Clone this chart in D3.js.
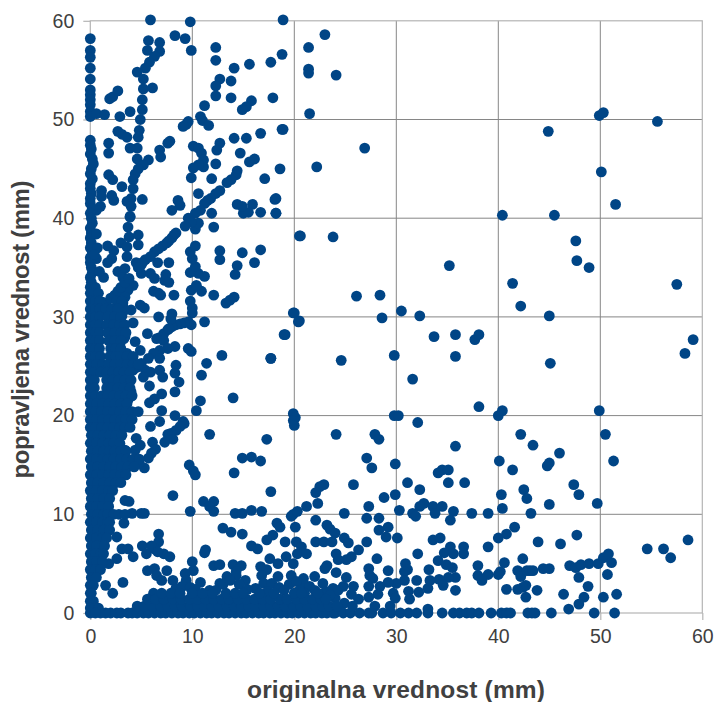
<!DOCTYPE html>
<html>
<head>
<meta charset="utf-8">
<script src="https://cdn.jsdelivr.net/npm/d3@7"></script>
<style>
html, body { margin: 0; padding: 0; background: #fff; }
svg { display: block; }
text { font-family: "Liberation Sans", Arial, sans-serif; fill: #404040; }
</style>
</head>
<body>
<svg width="717" height="702"></svg>
<script>
var xLabel = 'originalna vrednost (mm)';
var yLabel = 'popravljena vrednost (mm)';
var xTicks = [0, 10, 20, 30, 40, 50, 60];
var yTicks = [0, 10, 20, 30, 40, 50, 60];

// upper left part, y 40 - 60
var topPoints = [
[5.9,60.1],[9.8,59.9],[18.9,60.1],[0,58.2],[0,57],[0,56.3],[0,55.2],[0,54.1],[0,53],[0,52.5],[0,52],[0,51.5],[0,50.8],[0,50.3],
[.6,50.6],[1.4,50.5],[2.9,50.3],[3.9,50.8],[1.9,52.1],[2.2,52.3],[2.7,52.9],[5.7,58],[6.8,57.8],[5.6,57],[6.8,56.9],[6.3,56.4],
[5.8,55.8],[5.4,55.2],[4.6,54.8],[5.2,54.1],[5.2,53.1],[6.1,53.2],[5.1,52],[5.1,51],[4.9,50],[4.8,48.9],[4.7,48.2],[4.6,47.1],
[3.9,47.1],[4.6,46],[5.7,45.9],[5.2,45.4],[4.7,45],[4.4,44.5],[4.2,43.9],[4.2,43],[4,42],[3.6,41.7],[5.1,41.9],[4,41.2],[3.9,40.1],
[8.3,58.5],[9.3,58.2],[9.9,57],[12.3,57.3],[12.3,56],[14.1,55.2],[15.6,55.6],[17.7,55.8],[18.8,56.6],[12.7,54.1],[13.8,53.9],
[12.3,53.4],[12.3,52.4],[13.8,52.2],[15.8,51.9],[15.3,51.3],[14.9,51],[17.9,52.2],[11.2,51.4],[10.8,50.3],[11,49.9],[11.6,49.4],
[9.6,49.8],[9.4,49.5],[9.1,49.3],[18.9,49],[16.7,48.6],[15.3,48.1],[14.1,48.1],[12.7,47.6],[12.4,46.9],[10.1,47.3],[10.6,47.1],
[10.9,46.6],[11.1,45.9],[11.1,45.2],[10.6,45.4],[10.1,45.1],[9.9,44.1],[11.9,44],[12.3,45.5],[14.7,46.6],[16.1,46],[15.6,45.7],
[18.6,45],[17.1,44],[14.4,44.8],[14.3,44.4],[13.8,43.9],[13.4,43.6],[12.7,42.8],[12.3,42.5],[11.8,42],[11.5,41.8],[11.2,41.5],
[10.8,40.8],[10.3,40.5],[9.6,40],[10.6,42.5],[11.9,40.5],[14.4,41.4],[15.9,41.4],[18.2,42],[16.7,40.6],[18.2,40.5],[15,40.5],
[15.5,40.6],[14.9,41.2],[2.7,48.8],[3.1,48.5],[3.6,48.2],[1.8,47.6],[1.8,46.6],[1.8,44.4],[2.2,43.9],[3.1,43.2],[1.1,42.8],
[1.1,42.2],[2.1,42.3],[2.3,41.8],[1,41.2],[.6,40.8],[6.8,46.9],[6.9,46.2],[7.6,47.6],[7.8,47.8],[8.6,41.8],[8.8,41.3],[8,40.8],
[21.4,57.3],[23,58.6],[21.4,55.1],[21.4,54.7],[24.1,54.5],[21.5,50.6],[18.8,49],[22.2,45.2],[26.9,47.1],[18.1,41.9],[18.2,40.5],
[0,47.9],[0,47.4],[.1,47],[0,46.5],[.2,46],[.3,45.5],[.1,45],[0,44.5],[.2,44],[0,43.5],[0,43],[.1,42.5],[0,42],[0,41.5],[.2,41],[0,40.5],[.1,40]
];

// middle part, y 20 - 40
var middlePoints = [
[3.9,40.2],[3.7,39.1],[3.8,38.1],[4.7,38.3],[4.7,37.3],[3,37.5],[3.6,37.1],[3.6,36.1],[1.7,37.2],[2.3,36.7],[2.1,35.9],[1.7,35.5],
[.6,35.9],[1.3,34],[2.7,34.6],[3.4,34.9],[3.2,34],[4.5,35.5],[5,35.3],[5,34.4],[5.9,34.4],[6.3,33.9],[6.6,35.5],[7.7,35.5],[7.4,34.3],
[7.3,33.7],[7.7,33.5],[4.2,33.2],[3.7,32.7],[2.9,32.2],[6.2,32.6],[6.7,32.4],[6.9,32.2],[8.2,32.2],[9.8,31.6],[10,30.9],[10,30.4],
[10.9,32.6],[9.9,32.7],[10.4,33.2],[11.2,34.1],[10.6,34.4],[9.8,34.5],[10.3,35.1],[10,35.9],[9.8,36.6],[10.3,37.2],[12.1,32.2],
[13.3,31.4],[13.7,31.7],[14.1,32],[14.2,34.3],[14.4,35.2],[16.1,35.5],[12.7,36.7],[12.7,35.8],[14.9,36.5],[16.7,36.8],[20.6,38.2],
[12.1,39.1],[10.3,38.9],[10.6,39.5],[9.9,39.6],[9.3,39.2],[8.4,38.5],[8.2,38.3],[8,38],[7.7,37.7],[7.5,37.5],[7.1,37.2],[6.7,36.9],
[6.3,36.6],[5.9,36.1],[5.4,35.8],[5.1,35.5],[4.7,35],[19.9,30.4],[20.4,29.5],[19.1,28.2],[17.7,25.8],[14,21.8],[12.9,26.1],[11.4,25.3],
[10.9,24.1],[11.2,29.5],[10.8,21.5],[10.4,20.5],[8.3,22.4],[7,22.2],[6.3,21.7],[5.8,21.3],[7,20.5],[8.3,20],[9.1,19.4],[6.8,19.4],
[19.9,20.2],[20.1,19.8],[19.9,19.5],[20,19],[9.9,29.2],[9.6,29.5],[9.2,29.4],[8.8,29.3],[8.4,29.2],[8,29],[7.6,28.7],[7.2,28.3],[6.8,27.9],
[9.6,26.8],[9.9,26.5],[8.4,25.1],[8.3,24.3],[8.7,23.4],[8,30.3],[7.9,29.8],[6.7,30],[5.6,28.3],[4.2,29.4],[4,30.7],[4.9,31.2],[5.3,30.9],
[7.7,28.8],[4.4,27.5],[4.9,26.6],[3.6,26.3],[3.4,25.1],[6.8,24.6],[7.1,23.9],[5.8,23],[4,22.4],[3.7,21.6],[5.4,24.6],[5.9,24.4],[5.2,23.9],
[6.5,27.8],[7.2,27.6],[8.3,27],[7.6,26.8],[6.8,26.6],[6.2,26.3],[5.7,25.8],[5,25.3],[4.6,24.9],[4.2,24.6],[3.7,24.1],[3.2,23.6],[6.8,25.8],
[2.3,30],[3.1,30.1],[3.4,30.7],[3.2,31.4],[3.3,29.2],[3.1,28.5],[3.3,27.8],[2.9,27.2],[2.1,29],[1.9,28.4],[2.7,28.9],[3.4,28],[2.3,26.5],[2.8,25.5],
[1.2,31.5],[1.6,31.2],[2,31.9],[2.4,32.2],[2.7,32.6],[3,33],[3.4,33.5],[3.8,33.9],[1,30.4],[1.4,30.2],[3.2,31],[3.4,32],
[.2,39.5],[0,39],[.1,38.5],[0,38],[.1,37.5],[0,37],[.2,36.5],[0,36],[0,35.5],[.1,35],[.2,34.5],[0,34],[.1,33.5],[0,33],
[.6,38.4],[.7,37],[.5,33],[.9,34.6],[.4,36.3]
];

// right side of the chart, sparse
var rightPoints = [
[20.5,38.2],[23.8,38.1],[26.1,32.1],[28.4,32.2],[28.6,29.9],[30.5,30.6],[32.3,30.1],[33.7,28],[35.8,28.2],[37.7,27.7],[38.1,28.2],
[35.8,26],[29.8,26.1],[31.6,23.7],[24.6,25.6],[17.7,25.8],[19,28.2],[20,30.4],[20.5,29.6],[35.2,35.2],[40.4,40.3],[44.9,48.8],[49.9,50.4],
[50.3,50.7],[55.6,49.8],[50.1,44.7],[51.5,41.4],[45.5,40.3],[47.6,37.7],[47.7,35.7],[48.9,35],[41.4,33.4],[42.2,31.1],[45,30.1],[45.1,25.3],
[57.5,33.3],[58.3,26.3],[59.1,27.7],[38.1,20.9],[40,20],[40.4,20.5],[49.9,20.5],[50.5,18.1],[51.3,15.4],[42.2,18.1],[43.4,17],[35.8,16.9],
[46,16.2],[44.8,14.9],[45,15.2],[29.8,20],[30.2,20],[32.1,19.3],[47.4,13],[47.9,12],[45,11],[49.7,11.1],[54.6,6.5],[56.2,6.5],[56.9,5.6],[58.6,7.4]
];

// lower band, y 1.5 - 20, x beyond the left block
var lowerPoints = [
[24.1,18.1],[27.9,18.1],[28.3,17.6],[40.1,15.4],[41.4,14.5],[27.1,15.7],[27.6,14.7],[29.9,15.1],[34.5,14.5],[34.1,14.2],[35.1,14.5],[35.1,13.2],
[31.1,13.2],[36.7,13.2],[32.3,12.5],[25.8,13],[22.9,13],[22.5,12.8],[22.1,12.2],[28.8,11.7],[29.9,12],[40.3,12],[42.5,12.5],[42.8,11.6],[22.3,11.1],
[21.2,10.8],[27.3,10.8],[32.7,11.1],[32.3,10.8],[33.6,10.8],[34.5,10.8],[40.4,10.6],[35.6,10.3],[30.3,10.4],[24.9,10.1],[31.6,10.1],[31.9,9.8],[33.8,10.1],
[37.4,10.1],[39,10.1],[43.2,10.1],[22.1,9.4],[27.1,9.6],[28.3,9.6],[35.3,9.4],[23.2,8.9],[23.5,8.5],[24,8.1],[29.2,8.7],[28.3,8.4],[29,7.7],[24.9,7.6],[25.3,7.1],
[30.1,7.6],[27.1,7.2],[22.1,7.2],[22.9,7.2],[23.7,7.2],[33.6,7.4],[34.3,7.6],[40,7.6],[40.8,8],[41.6,8.7],[39,6.7],[35.3,6.7],[36.6,6.7],[34.7,6.1],[35.6,6],[36.6,6],
[32.1,6],[26.3,6.4],[24.1,6],[25.6,5.7],[25.1,5.4],[24.3,5.4],[28.1,5.5],[34.1,5.3],[42.4,5.5],[43.9,7.2],[46.1,7],[47.7,7.9],[40.6,5.1],[30.9,5],[34.9,4.9],[35.5,4.6],
[38,4.8],[27.3,4.5],[31.1,4.4],[33.2,4.4],[29.2,4.3],[40.2,4.2],[41.9,4.3],[42.2,3.7],[42.8,4.3],[43.1,4.3],[43.4,4.3],[44.4,4.5],[45,4.5],[47,4.8],[47.6,4.6],[48.1,4.9],
[48.9,5],[49.8,5],[50.3,5.6],[50.8,6],[51.1,5.1],[50.7,3.9],[47.9,3.6],[48.8,2.7],[48.4,1.6],[47.9,.9],[46.9,.4],[46.4,1.9],[43.8,2.3],[42.7,2.8],[42.4,2.6],[41.9,2.4],
[40.8,2.4],[42.7,1.6],[50.3,1.6],[51.6,1.9],[24.1,4.1],[23.2,4.8],[23,4.5],[40,3.9],[30.8,4.2],[27.4,3.8],[27.7,3.5],[25.1,3.6],[38,3.8],[39,3.9],[38.4,3.3],[35.8,3.6],
[35.1,3.6],[34.2,3.4],[33.3,3.3],[32,3.3],[30.8,3.3],[30,3],[29.2,3.1],[34.6,2.8],[35.8,2.3],[33.1,2.5],[32.2,2.1],[31.2,2.2],[31.3,1.4],[29.7,2],[29.9,1.5],[28.4,2.7],
[27.3,2.7],[25.8,2.7],[24.8,2.7],[23.8,2.5],[28.2,1.9],[27.3,1.6],[25.6,1.9],[24,1.5],[24.9,1],[22.8,1.8],[22.8,3],[22,3.7],[20.9,3],[21.5,2.7],[22,2.3],[21,2],
[9.2,19.2],[8.8,18.9],[8.4,18.5],[7.9,18.2],[7.6,18.1],[8.1,17.6],[7.3,17.3],[5.9,18.9],[6.1,17.3],[6.4,16.6],[6,16.2],[5.7,15.7],[5.3,14.7],[4.1,15.2],[4.8,15.2],[4.5,17.7],
[4.9,17],[4.4,16.5],[3.4,16.5],[11.7,18.1],[17.3,17.6],[14.9,15.7],[15.8,15.8],[16.7,15.4],[14.1,14.2],[9.7,15],[10.1,14.4],[10.3,14],[17.7,12.3],[8.1,11.9],[3.4,11.4],
[3.8,11.3],[11.1,11.3],[12.1,11.3],[11.7,10.8],[12.1,10.3],[9.8,10.3],[14.2,10.1],[14.9,10.1],[15.8,10.4],[16.8,10.3],[19.7,9.8],[19.9,10],[20.3,10.3],[20.1,8.7],[4.1,10.1],
[5,10.1],[5.3,10.1],[3.3,9.1],[2.6,7.7],[18.3,9.1],[18.6,8.7],[13,8.6],[13.8,8.2],[14.9,8],[6.7,8],[17.9,7.9],[17.3,7.4],[19.1,7.2],[20.2,7.2],[20.7,6.7],[15.8,6.8],[16.4,6.5],
[6.7,7.2],[5.1,6.8],[3.1,6.5],[3.7,6.5],[5.5,6],[6.3,6.5],[6,6.8],[7.2,6],[7.8,5.7],[6.6,6.2],[2.6,5.5],[4.2,5.7],[1.8,5],[11.3,6.4],[11.2,6.1],[17.6,5.5],[19.2,5.7],[20.3,6],
[21.2,6],[18.4,5],[19.9,5],[10,5.2],[12.1,4.8],[12.7,4.9],[14,4.9],[14.8,4.8],[16.7,4.7],[17.3,4.4],[5.6,4.3],[6.3,4.5],[7.5,4.3],[10.1,4.3],[9.3,4],[14.3,4.2],[14.3,3.8],[13.4,3.7],
[16.8,3.8],[18.4,3.7],[19.7,3.8],[20.9,3.5],[6.5,3.8],[7,3.3],[8.1,3.3],[9.4,3.3],[10.8,3.1],[3.2,3.1],[1.5,2.8],[2.2,2],[6.2,2],[12.7,3],[15.2,3.3],[11.7,2.3],[13,2.9],[13.7,3.3],
[14.6,2.9],[16.2,2.5],[17,3],[17.8,3],[18.5,2.6],[19.5,2.9],[20.2,3.2],[24.3,2.3],[23.1,2.2],
[8.4,2.5],[9,2.7],[9.8,2.6],[10.3,2.4],[12.3,2.3],[15.4,2.4],[17.4,2.2],[19,2.3],[20.5,2.3],[23.5,1.8]
];

// row on the x axis
var bottomRow = [
[3,0],[2.6,0],[2,0],[1.5,0],[1,0],[3.7,0],[4.1,0],[4.6,0],[5.2,0],[5.7,0],[6.3,0],[6.9,0],[7.4,0],[8,0],[8.6,0],[9.1,0],[9.7,0],[10.2,0],[10.8,0],[11.4,0],[11.9,0],
[12.5,0],[13.1,0],[13.6,0],[14.2,0],[14.8,0],[15.3,0],[15.9,0],[16.5,0],[17,0],[17.6,0],[18.1,0],[18.7,0],[19.3,0],[19.8,0],[20.4,0],[21,0],[21.6,0],[22.1,0],[22.7,0],[23.2,0],[23.8,0],[24,0],
[24.8,0],[25.5,0],[26.4,0],[27.3,0],[27.6,0],[28.7,0],[29.5,0],[30.4,0],[31.2,0],[32,0],[33.1,0],[33.1,.4],[34.5,0],[35.6,0],[36.2,0],[36.9,0],[37.4,0],[38.1,0],[39.3,0],[40.3,0],[40.8,0],[41.2,0],
[42.9,0],[43.3,0],[43.6,0],[45.2,0],[49.4,0],[51.4,0]
];

// solid band just above the x axis: [y, x, x, x ...]
var bottomBand = [
[.7, 4.6,5.3,6.1,6.9,7.6,8.3,9,9.8,10.5,11.2,11.9,12.6,13.4,14.1,14.8,15.5,16.2,17,17.7,18.4,19.1,19.9,20.6,21.3,22.1,22.8,23.4,24.2,25.7,27.9,29.4],
[1.4, 5.6,6.4,7.2,8.1,8.9,9.7,10.5,11.3,12.1,12.9,13.6,14.5,15.3,16.1,16.9,17.7,18.6,19.3,20.2,21,21.8,22.6,23.1,26.3],
[2, 7,7.9,8.8,10,11,12,13.3,14.2,15,16.6,18,20,20.7,22.3]
];

// solid block at the left edge: [y, x, x, x ...]
var denseRows = [
[32.4, 0,.4,.8],[31.6, 0,.5,.9,2.6,3.1],[30.8, 0,.5,.9,1.5,2.1,2.7],[30, 0,.5,.9,1.7,2.4,3],[29.2, 0,.5,.9,1.6,2.3,2.9,3.4],[28.4, 0,.5,.9,1.7,2.4,3,3.5],
[27.6, 0,.5,.9,1.8,2.4,3],[26.8, 0,.5,.9,2,2.5,3],[26, 0,.5,1,1.9,2.5,3,3.6,4.2],[25.2, 0,.6,1.2,1.8,2.4,3,3.6,4.2,4.7],[24.4, 0,.4,1,1.6,2.2,2.8,3.3,3.9],
[23.6, 0,.4,1.6,2.2,2.8,3.4,4],[22.8, 0,.4,1.6,2.1,2.7,3.3,3.9],[22, 0,.5,1.1,1.7,2.3,2.9,3.5,4.1],[21.2, 0,.6,1.2,1.8,2.4,3,3.6],[20.4, 0,.5,1.1,1.7,2.3,2.9,3.5,4.1,4.7],
[19.6, 0,.6,1.2,1.8,2.4,3,3.5,4.1],[18.8, 0,.5,1.1,1.7,2.3,2.9,3.4,3.9],[18, .1,.7,1.3,1.9,2.5,3.1],[17.2, 0,.6,1.2,1.8,2.3,2.9],[16.4, .1,.7,1.3,1.9,2.4,3,3.5],
[15.6, 0,.6,1.2,1.7,2.3,3,3.6,4.2,4.8],[14.8, .1,.7,1.3,1.9,2.5,3.1,3.7,4.3],[14, 0,.6,1.2,1.8,2.4,3,3.5],[13.2, .1,.7,1.3,1.9,2.5,3],[12.4, 0,.6,1.2,1.8,2.2],
[11.6, .1,.7,1.3,1.9],[10.8, 0,.6,1.2,1.8],[10, .1,.7,1.3,1.7,2.3,2.8,3.4],[9.2, 0,.6,1.2,1.7,1.9],[8.4, .1,.7,1.3,1.9],[7.6, 0,.6,1.2,1.6],[6.8, .1,.6,1.2,1.4],
[6, 0,.5,1,1.3],[5.2, .1,.6,1.2],[4.4, 0,.5,1],[3.6, .1,.6],[2.8, 0,.3],[2, 0,.1],[1.2, 0,.3],[.5, 0,.4,.8],[0, 0,.5]
];

var width = 717, height = 702;
var margin = { left: 90.3, right: 14.7, top: 20.8, bottom: 89 };

var x = d3.scaleLinear().domain([0, 60]).range([margin.left, width - margin.right]);
var y = d3.scaleLinear().domain([0, 60]).range([height - margin.bottom, margin.top]);

var svg = d3.select('svg');

// gridlines
svg.append('g').selectAll('line').data(xTicks.slice(1, -1)).enter().append('line')
    .attr('x1', function(d) { return x(d); })
    .attr('x2', function(d) { return x(d); })
    .attr('y1', y(60))
    .attr('y2', y(0))
    .attr('stroke', '#868686')
    .attr('stroke-width', 1);
svg.append('g').selectAll('line').data(yTicks.slice(1, -1)).enter().append('line')
    .attr('x1', x(0))
    .attr('x2', x(60))
    .attr('y1', function(d) { return y(d); })
    .attr('y2', function(d) { return y(d); })
    .attr('stroke', '#868686')
    .attr('stroke-width', 1);

// outer frame, lighter than the grid
svg.append('rect')
    .attr('x', x(0))
    .attr('y', y(60))
    .attr('width', x(60) - x(0))
    .attr('height', y(0) - y(60))
    .attr('fill', 'none')
    .attr('stroke', '#b4b4b4')
    .attr('stroke-width', 1.2);

var xAxis = svg.append('g')
    .attr('transform', 'translate(0,' + y(0) + ')')
    .call(d3.axisBottom(x).tickValues(xTicks).tickSize(7).tickPadding(9));
var yAxis = svg.append('g')
    .attr('transform', 'translate(' + x(0) + ',0)')
    .call(d3.axisLeft(y).tickValues(yTicks).tickSize(7).tickPadding(9));

[xAxis, yAxis].forEach(function(axis) {
    axis.select('.domain').remove();
    axis.selectAll('line').attr('stroke', '#b4b4b4').attr('stroke-width', 1.2);
    axis.selectAll('text').style('font-size', '19.5px').style('fill', '#404040');
});

// expand the [y, x, x ...] rows into points
function rowsToPoints(rows) {
    var out = [];
    rows.forEach(function(row) {
        row.slice(1).forEach(function(v) { out.push([v, row[0]]); });
    });
    return out;
}

var points = topPoints.concat(middlePoints, rightPoints, lowerPoints, bottomRow,
    rowsToPoints(bottomBand), rowsToPoints(denseRows));

svg.append('g').selectAll('circle').data(points).enter().append('circle')
    .attr('cx', function(d) { return x(d[0]); })
    .attr('cy', function(d) { return y(d[1]); })
    .attr('r', 5.4)
    .attr('fill', '#004586');

svg.append('text')
    .attr('x', 396)
    .attr('y', 698)
    .attr('text-anchor', 'middle')
    .attr('textLength', 298)
    .attr('lengthAdjust', 'spacing')
    .style('font-size', '24.5px')
    .style('font-weight', 'bold')
    .text(xLabel);

svg.append('text')
    .attr('transform', 'translate(29,329.5) rotate(-90)')
    .attr('text-anchor', 'middle')
    .attr('textLength', 298)
    .attr('lengthAdjust', 'spacing')
    .style('font-size', '24px')
    .style('font-weight', 'bold')
    .text(yLabel);
</script>
</body>
</html>
